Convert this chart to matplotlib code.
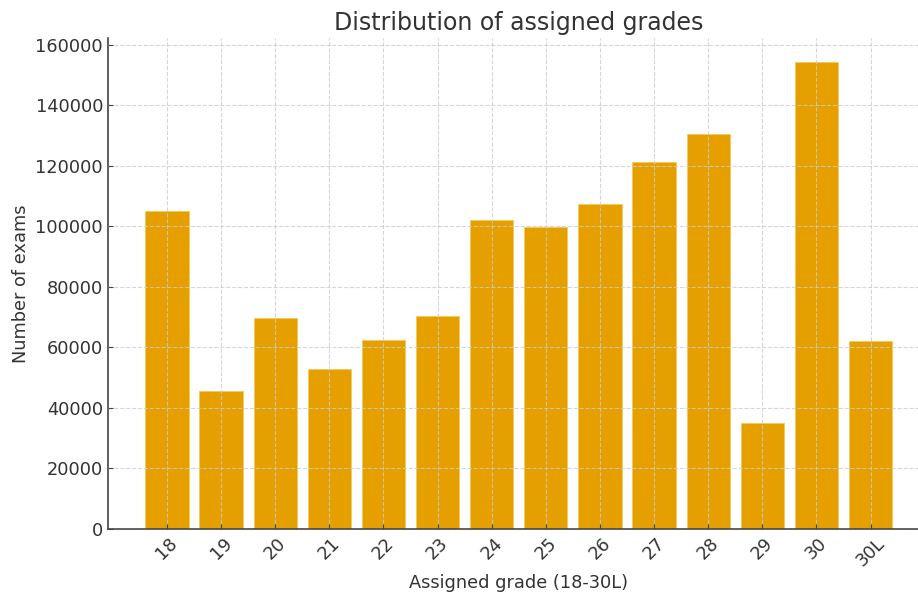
import matplotlib.pyplot as plt

grades = ['18', '19', '20', '21', '22', '23', '24', '25', '26', '27', '28', '29', '30', '30L']
exams = [105100, 45500, 69700, 52800, 62300, 70400, 102100, 99900, 107400, 121300, 130600, 35100, 154400, 62100]

text_color = '#333333'

fig = plt.figure(figsize=(9.18, 5.94), dpi=100)
ax = fig.add_axes([0.1176, 0.1094, 0.895, 0.826])

ax.bar(grades, exams, width=0.8, color='#E5A000', edgecolor='#F2C860', linewidth=0.6)

ax.set_axisbelow(False)
ax.grid(True, linestyle='--', color='#cccccc', linewidth=0.8, alpha=0.8)
for s in ['top', 'right']:
    ax.spines[s].set_visible(False)
for s in ['left', 'bottom']:
    ax.spines[s].set_color('#444444')
    ax.spines[s].set_linewidth(1.2)

ax.tick_params(direction='in', colors='#444444', labelcolor=text_color, labelsize=12.8)
plt.setp(ax.get_xticklabels(), rotation=45)

ax.set_title('Distribution of assigned grades', fontsize=17, color=text_color, pad=6)
ax.set_xlabel('Assigned grade (18-30L)', fontsize=12.8, color=text_color, labelpad=3)
ax.set_ylabel('Number of exams', fontsize=12.8, color=text_color)

fig.savefig('out.png', dpi=100)
